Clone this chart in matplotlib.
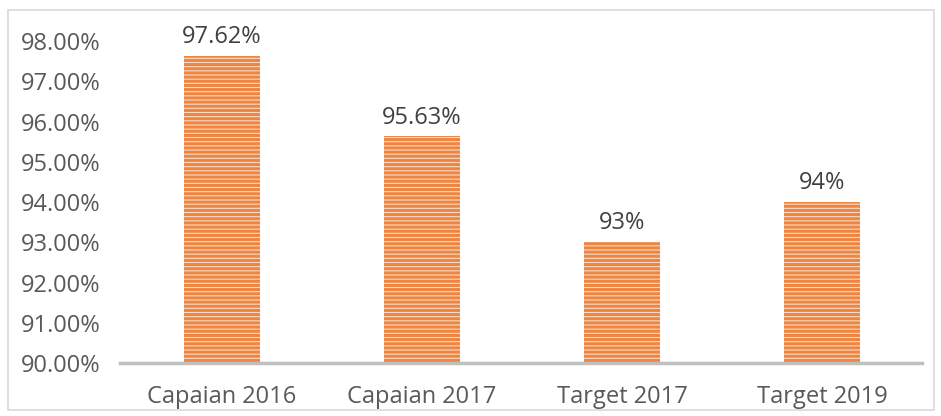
import matplotlib.pyplot as plt
from matplotlib.patches import Rectangle

# data
categories = ["Capaian 2016", "Capaian 2017", "Target 2017", "Target 2019"]
values = [97.62, 95.63, 93.0, 94.0]
labels = ["97.62%", "95.63%", "93%", "94%"]
yticks = [90, 91, 92, 93, 94, 95, 96, 97, 98]

plt.rcParams['font.family'] = ['Open Sans', 'DejaVu Sans']
plt.rcParams['hatch.linewidth'] = 2.2

fig = plt.figure(figsize=(9.41, 4.16), dpi=100)
ax = fig.add_axes([0.1275, 0.1274, 0.8525, 0.8221])

x = range(len(categories))
bars = ax.bar(x, [v - 90 for v in values], bottom=90, width=0.38,
              color='#FADCC6', edgecolor='#EE8540', linewidth=0, hatch='----')

for b, lab in zip(bars, labels):
    ax.annotate(lab, (b.get_x() + b.get_width() / 2, b.get_y() + b.get_height()),
                xytext=(0, 5), textcoords='offset points', ha='center', va='bottom',
                fontsize=17, color='#404040')

ax.set_xlim(-0.51, 3.5)
ax.set_ylim(90, 98.5)
ax.set_xticks(list(x))
ax.set_xticklabels(categories, fontsize=17, color='#595959')
ax.set_yticks(yticks)
ax.set_yticklabels([f"{t:.2f}%" for t in yticks], fontsize=17, color='#595959')
ax.tick_params(length=0)
ax.tick_params(axis='x', pad=16)
ax.tick_params(axis='y', pad=14)

for s in ['top', 'right', 'left']:
    ax.spines[s].set_visible(False)
ax.spines['bottom'].set_color('#BFBFBF')
ax.spines['bottom'].set_linewidth(2.5)

# outer chart border
fig.patches.append(Rectangle((0.009, 0.015), 0.984, 0.962, transform=fig.transFigure,
                             fill=False, edgecolor='#D9D9D9', linewidth=1.2))

fig.savefig('out.png', dpi=100)
